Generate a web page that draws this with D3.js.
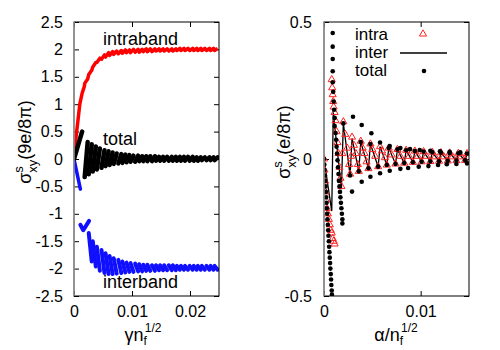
<!DOCTYPE html>
<html>
<head>
<meta charset="utf-8">
<script src="https://cdn.jsdelivr.net/npm/d3@7"></script>
<style>
body { margin: 0; background: #fff; }
text { font-family: "Liberation Sans", Arial, sans-serif; }
</style>
</head>
<body>
<div id="chart"></div>
<script>
// left panel: sigma_xy vs gamma*sqrt(n_f), oscillations drawn as strokes
const leftStrokeX = [0.0021, 0.0028, 0.0035, 0.0042, 0.0050, 0.0057, 0.0064, 0.0071, 0.0079, 0.0086,
  0.0093, 0.0100, 0.0108, 0.0115, 0.0122, 0.0129, 0.0137, 0.0144, 0.0151, 0.0158,
  0.0166, 0.0173, 0.0180, 0.0187, 0.0194, 0.0202, 0.0209, 0.0216, 0.0223, 0.0231, 0.0238, 0.0245]
const intraLo = [1.38, 1.54, 1.68, 1.76, 1.82, 1.86, 1.89, 1.91, 1.92, 1.93,
  1.94, 1.94, 1.95, 1.95, 1.96, 1.96, 1.96, 1.97, 1.97, 1.97,
  1.97, 1.97, 1.98, 1.98, 1.98, 1.98, 1.98, 1.98, 1.98, 1.98, 1.98, 1.98]
const intraHi = [1.46, 1.62, 1.76, 1.84, 1.90, 1.94, 1.96, 1.97, 1.98, 1.99,
  1.99, 2.00, 2.00, 2.00, 2.01, 2.01, 2.01, 2.01, 2.01, 2.01,
  2.01, 2.01, 2.02, 2.02, 2.02, 2.02, 2.02, 2.02, 2.02, 2.02, 2.02, 2.02]
const totalLo = [-0.33, -0.28, -0.23, -0.19, -0.16, -0.13, -0.11, -0.09, -0.08, -0.07,
  -0.06, -0.05, -0.05, -0.04, -0.04, -0.04, -0.04, -0.03, -0.03, -0.03,
  -0.03, -0.03, -0.03, -0.03, -0.03, -0.03, -0.03, -0.03, -0.02, -0.02, -0.02, -0.02]
const totalHi = [0.31, 0.27, 0.23, 0.19, 0.16, 0.14, 0.12, 0.10, 0.09, 0.08,
  0.07, 0.06, 0.06, 0.05, 0.05, 0.05, 0.05, 0.04, 0.04, 0.04,
  0.04, 0.04, 0.04, 0.04, 0.04, 0.04, 0.03, 0.03, 0.03, 0.03, 0.03, 0.03]
const interHi = [null, -1.35, -1.50, -1.60, -1.66, -1.72, -1.77, -1.81, -1.84, -1.87,
  -1.89, -1.90, -1.91, -1.92, -1.93, -1.93, -1.94, -1.94, -1.94, -1.94,
  -1.94, -1.94, -1.95, -1.95, -1.95, -1.95, -1.95, -1.95, -1.95, -1.95, -1.95, -1.95]
const interLo = [null, -1.87, -1.96, -2.04, -2.08, -2.10, -2.10, -2.09, -2.08, -2.07,
  -2.06, -2.06, -2.05, -2.05, -2.04, -2.04, -2.04, -2.03, -2.03, -2.03,
  -2.03, -2.03, -2.02, -2.02, -2.02, -2.02, -2.02, -2.02, -2.02, -2.02, -2.02, -2.02]
// start of each curve near the origin
const intraRiseX = [0, 0.0003, 0.0007, 0.0010, 0.0014, 0.0018]
const intraRiseY = [0, 0.35, 0.72, 1.0, 1.2, 1.33]
const totalRiseX = [0, 0.0014]
const totalRiseY = [0, 0.5]
const interDropX = [0, 0.0011]
const interDropY = [0, -0.55]
const interCheckX = [0.0011, 0.0016, 0.0026]
const interCheckY = [-1.2, -1.3, -1.13]

const leftYTicks = [-2.5, -2, -1.5, -1, -0.5, 0, 0.5, 1, 1.5, 2, 2.5]
const leftXTicks = [0, 0.01, 0.02]

// right panel: sigma_xy vs alpha/sqrt(n_f)
const interLineX = [0, 0.0008, 0.00096, 0.0018, 0.0020, 0.0027, 0.0029, 0.0036, 0.0038, 0.0046,
  0.0048, 0.0056, 0.0058, 0.0065, 0.0067, 0.0074, 0.0076, 0.0083, 0.0085, 0.0092,
  0.0094, 0.0101, 0.0103, 0.0110, 0.0112, 0.0119, 0.0121, 0.0128, 0.0130, 0.0137,
  0.0139, 0.0146, 0.0148, 0.0150]
const interLineY = [0, -0.19, 0.17, -0.11, 0.13, -0.06, 0.075, -0.045, 0.062, -0.034,
  0.055, -0.028, 0.045, -0.022, 0.04, -0.018, 0.035, -0.015, 0.032, -0.012,
  0.029, -0.01, 0.027, -0.009, 0.025, -0.008, 0.023, -0.007, 0.022, -0.006,
  0.021, -0.005, 0.02, 0.015]
const intraPts = [[0, 0], [0.00005, -0.04], [0.0001, -0.08], [0.00015, -0.12], [0.0002, -0.15],
  [0.0003, -0.18], [0.0004, -0.2], [0.0005, -0.22], [0.0006, -0.24], [0.0007, -0.26],
  [0.0008, -0.27], [0.0009, -0.29], [0.001, -0.3], [0.0011, -0.31],
  [0.0008, 0.29], [0.00085, 0.26], [0.0009, 0.235], [0.00095, 0.21], [0.001, 0.19],
  [0.0011, 0.17], [0.0012, 0.14], [0.0013, 0.1], [0.0014, 0.06], [0.0015, 0.02],
  [0.0016, -0.03], [0.0017, -0.07], [0.0018, -0.1],
  [0.0019, 0.02], [0.0020, 0.136], [0.0022, 0.09], [0.0024, 0.04], [0.0026, -0.02], [0.0027, -0.055],
  [0.0028, 0.01], [0.0029, 0.08], [0.0031, 0.05], [0.0033, 0.02], [0.0035, -0.02], [0.0036, -0.045],
  [0.0038, 0.065], [0.0040, 0.04], [0.0042, 0.02], [0.0044, -0.01], [0.0046, -0.035],
  [0.0048, 0.055], [0.0050, 0.035], [0.0053, 0.01], [0.0056, -0.028],
  [0.0058, 0.045], [0.0060, 0.03], [0.0063, 0.005], [0.0065, -0.022],
  [0.0067, 0.04], [0.0070, 0.015], [0.0074, -0.018], [0.0076, 0.035], [0.0079, 0.01],
  [0.0083, -0.015], [0.0085, 0.032], [0.0088, 0.01], [0.0092, -0.012], [0.0094, 0.029],
  [0.0097, 0.01], [0.0101, -0.01], [0.0103, 0.027], [0.0106, 0.01], [0.0110, -0.009],
  [0.0112, 0.025], [0.0115, 0.008], [0.0119, -0.008], [0.0121, 0.023], [0.0124, 0.008],
  [0.0128, -0.007], [0.0130, 0.022], [0.0133, 0.008], [0.0137, -0.006], [0.0139, 0.021],
  [0.0142, 0.008], [0.0146, -0.005], [0.0148, 0.02]]
const totalPts = [
  // column falling from the origin
  [0, 0], [0.00003, -0.02], [0.00006, -0.04], [0.0001, -0.06], [0.00013, -0.08], [0.00016, -0.1],
  [0.0002, -0.12], [0.00023, -0.14], [0.00026, -0.16], [0.0003, -0.18], [0.00033, -0.2],
  [0.00036, -0.22], [0.0004, -0.24], [0.00043, -0.26], [0.00046, -0.28], [0.0005, -0.3],
  [0.00053, -0.32], [0.00056, -0.34], [0.0006, -0.36], [0.00063, -0.38], [0.00066, -0.4],
  [0.0007, -0.42], [0.00073, -0.44], [0.00076, -0.46], [0.0008, -0.48], [0.00082, -0.495],
  // column coming down from the top
  [0.0009, 0.46], [0.0009, 0.41], [0.0009, 0.365], [0.0009, 0.32], [0.0009, 0.28],
  [0.00095, 0.245], [0.001, 0.21], [0.00105, 0.18], [0.0011, 0.15], [0.0011, 0.12],
  [0.0012, 0.095], [0.00125, 0.07], [0.0013, 0.045], [0.00135, 0.02], [0.0014, -0.005],
  [0.00145, -0.03], [0.0015, -0.055], [0.00155, -0.08], [0.0016, -0.1], [0.00165, -0.12],
  [0.0017, -0.14], [0.00175, -0.16], [0.0018, -0.18], [0.00185, -0.2], [0.0019, -0.22], [0.0019, -0.235],
  // upper envelope
  [0.0030, 0.154], [0.0039, 0.124], [0.0049, 0.094], [0.0058, 0.06], [0.0068, 0.047], [0.0079, 0.04],
  [0.0089, 0.036], [0.0099, 0.033], [0.0110, 0.03], [0.0120, 0.028], [0.0130, 0.026], [0.0141, 0.024],
  // lower envelope
  [0.0029, -0.119], [0.0039, -0.083], [0.0048, -0.065], [0.0058, -0.052], [0.0068, -0.043],
  [0.0079, -0.036], [0.0087, -0.033], [0.0098, -0.028], [0.0108, -0.026], [0.0118, -0.022],
  [0.0127, -0.019], [0.0137, -0.018], [0.0148, -0.016],
  // on the oscillation
  [0.0020, 0.13], [0.0027, -0.06], [0.0036, -0.045], [0.0038, 0.062], [0.0046, -0.034],
  [0.0048, 0.055], [0.0056, -0.028], [0.0065, -0.022], [0.0067, 0.04], [0.0074, -0.018],
  [0.0076, 0.035], [0.0083, -0.015], [0.0085, 0.032], [0.0092, -0.012], [0.0094, 0.029],
  [0.0101, -0.01], [0.0103, 0.027], [0.0110, -0.009], [0.0112, 0.025], [0.0119, -0.008],
  [0.0121, 0.023], [0.0128, -0.007], [0.0130, 0.022], [0.0137, -0.006], [0.0139, 0.021],
  [0.0146, -0.005], [0.0148, 0.02]]

const rightYTicks = [-0.5, 0, 0.5]
const rightXTicks = [0, 0.01]
const legendNames = ["intra", "inter", "total"]

const width = 500, height = 350
const plotTop = 22, plotBottom = 296

var svg = d3.select("#chart").append("svg")
  .attr("width", width).attr("height", height)

function makePanel(id, left, right, xDomain, yDomain, xTicks, yTicks, labelPad) {
  let x = d3.scaleLinear().domain(xDomain).range([left, right])
  let y = d3.scaleLinear().domain(yDomain).range([plotBottom, plotTop])
  let g = svg.append("g")

  g.append("clipPath").attr("id", id).append("rect")
    .attr("x", left).attr("y", plotTop).attr("width", right - left).attr("height", plotBottom - plotTop)

  let fmt = d => d === 0 ? "0" : String(d)
  let axes = [
    [d3.axisLeft(y).tickValues(yTicks).tickFormat(fmt).tickPadding(labelPad), left, 0],
    [d3.axisRight(y).tickValues(yTicks).tickFormat(""), right, 0],
    [d3.axisBottom(x).tickValues(xTicks).tickFormat(fmt).tickPadding(10), 0, plotBottom],
    [d3.axisTop(x).tickValues(xTicks).tickFormat(""), 0, plotTop]
  ]
  axes.forEach(function (a) {
    let ax = g.append("g")
      .attr("transform", "translate(" + a[1] + "," + a[2] + ")")
      .call(a[0].tickSizeInner(-5).tickSizeOuter(0))
    ax.select(".domain").remove()
    ax.selectAll("line").attr("stroke", "#000")
    ax.selectAll("text").attr("font-size", 16).attr("fill", "#000")
      .style("font-family", "'Liberation Sans', Arial, sans-serif")
  })

  let plot = g.append("g").attr("clip-path", "url(#" + id + ")")
  return { x: x, y: y, g: g, plot: plot }
}

// ---------- left panel ----------
let L = makePanel("clipL", 74, 219, [0, 0.025], [-2.5, 2.5], leftXTicks, leftYTicks, 11)

function strokes(panel, lo, hi, color, w, dir) {
  let idx = d3.range(leftStrokeX.length).filter(i => lo[i] !== null)
  panel.plot.selectAll(null)
    .data(idx)
    .enter()
    .append("line")
    .attr("x1", i => panel.x(leftStrokeX[i]) - 1.5)
    .attr("x2", i => panel.x(leftStrokeX[i]) + 1.5)
    .attr("y1", i => panel.y(dir > 0 ? lo[i] : hi[i]))
    .attr("y2", i => panel.y(dir > 0 ? hi[i] : lo[i]))
    .attr("stroke", color)
    .attr("stroke-width", w)
    .attr("stroke-linecap", "round")
}

function polyline(panel, xs, ys, color, w) {
  panel.plot.append("path")
    .attr("d", d3.line().x(d => panel.x(d[0])).y(d => panel.y(d[1]))(d3.zip(xs, ys)))
    .attr("fill", "none")
    .attr("stroke", color)
    .attr("stroke-width", w)
    .attr("stroke-linecap", "round")
    .attr("stroke-linejoin", "round")
}

// intraband: rise plus small sawtooth
let intraPath = d3.zip(intraRiseX, intraRiseY)
leftStrokeX.forEach(function (xv, i) {
  intraPath.push([xv - 0.00026, intraLo[i]])
  intraPath.push([xv + 0.00026, intraHi[i]])
})
L.plot.append("path")
  .attr("d", d3.line().x(d => L.x(d[0])).y(d => L.y(d[1]))(intraPath))
  .attr("fill", "none").attr("stroke", "#ff0000").attr("stroke-width", 3.5)
  .attr("stroke-linejoin", "round")

polyline(L, interDropX, interDropY, "#1010ff", 3.5)
polyline(L, interCheckX, interCheckY, "#1010ff", 4)
strokes(L, interLo, interHi, "#1010ff", 4, -1)

polyline(L, totalRiseX, totalRiseY, "#000", 4.5)
strokes(L, totalLo, totalHi, "#000", 4.5, 1)

L.g.append("rect").attr("x", 74).attr("y", plotTop).attr("width", 145).attr("height", plotBottom - plotTop)
  .attr("fill", "none").attr("stroke", "#000").attr("stroke-width", 1)
// gray zero axis on the left edge
L.g.append("line").attr("x1", L.x(0)).attr("x2", L.x(0)).attr("y1", plotTop).attr("y2", plotBottom)
  .attr("stroke", "#9a9a9a").attr("stroke-width", 1.5)

let curveLabels = [["intraband", 45], ["total", 145], ["interband", 288]]
L.g.selectAll(null).data(curveLabels).enter().append("text")
  .attr("x", 103).attr("y", d => d[1])
  .attr("font-size", 18)
  .text(d => d[0])

// ---------- right panel ----------
let R = makePanel("clipR", 324, 469, [0, 0.015], [-0.5, 0.5], rightXTicks, rightYTicks, 12)

R.plot.append("path")
  .attr("d", d3.line().x(d => R.x(d[0])).y(d => R.y(d[1]))(d3.zip(interLineX, interLineY)))
  .attr("fill", "none").attr("stroke", "#000").attr("stroke-width", 1.3)

let tri = d3.symbol().type(d3.symbolTriangle).size(22)
R.plot.selectAll(null).data(intraPts).enter().append("path")
  .attr("d", tri)
  .attr("transform", d => "translate(" + R.x(d[0]) + "," + R.y(d[1]) + ")")
  .attr("fill", "none").attr("stroke", "#ff2020").attr("stroke-width", 1)

R.plot.selectAll(null).data(totalPts).enter().append("circle")
  .attr("cx", d => R.x(d[0])).attr("cy", d => R.y(d[1]))
  .attr("r", 2.3).attr("fill", "#000")

R.g.append("rect").attr("x", 324).attr("y", plotTop).attr("width", 145).attr("height", plotBottom - plotTop)
  .attr("fill", "none").attr("stroke", "#000").attr("stroke-width", 1)
R.g.append("line").attr("x1", R.x(0)).attr("x2", R.x(0)).attr("y1", plotTop).attr("y2", plotBottom)
  .attr("stroke", "#9a9a9a").attr("stroke-width", 1.5)

// legend
let legend = R.g.append("g")
legend.selectAll(null).data(legendNames).enter().append("text")
  .attr("x", 355).attr("y", (d, i) => 40 + i * 18)
  .attr("font-size", 17)
  .text(d => d)
legend.append("path").attr("d", tri).attr("transform", "translate(423,34)")
  .attr("fill", "none").attr("stroke", "#ff2020")
legend.append("line").attr("x1", 400).attr("x2", 447).attr("y1", 53).attr("y2", 53)
  .attr("stroke", "#000").attr("stroke-width", 1.3)
legend.append("circle").attr("cx", 424).attr("cy", 71).attr("r", 2.3).attr("fill", "#000")

// ---------- axis titles ----------
function yTitle(cx, cy, unit) {
  let t = svg.append("text")
    .attr("transform", "translate(" + cx + "," + cy + ") rotate(-90)")
    .attr("text-anchor", "middle")
    .attr("font-size", 18)
  t.append("tspan").text("σ")
  t.append("tspan").attr("dy", -8).attr("font-size", 13).text("s")
  t.append("tspan").attr("dx", -6.5).attr("dy", 14).attr("font-size", 13).text("xy")
  t.append("tspan").attr("dy", -6).text(unit)
}
yTitle(31, 142, "(9e/8π)")
yTitle(290, 142, "(e/8π)")

function xTitle(cx, main) {
  let t = svg.append("text")
    .attr("x", cx).attr("y", 341)
    .attr("text-anchor", "middle")
    .attr("font-size", 18)
  t.append("tspan").text(main)
  t.append("tspan").attr("dy", 4).attr("font-size", 12).text("f")
  t.append("tspan").attr("dx", -2).attr("dy", -13).attr("font-size", 12).text("1/2")
}
xTitle(143, "γn")
xTitle(396, "α/n")
</script>
</body>
</html>
